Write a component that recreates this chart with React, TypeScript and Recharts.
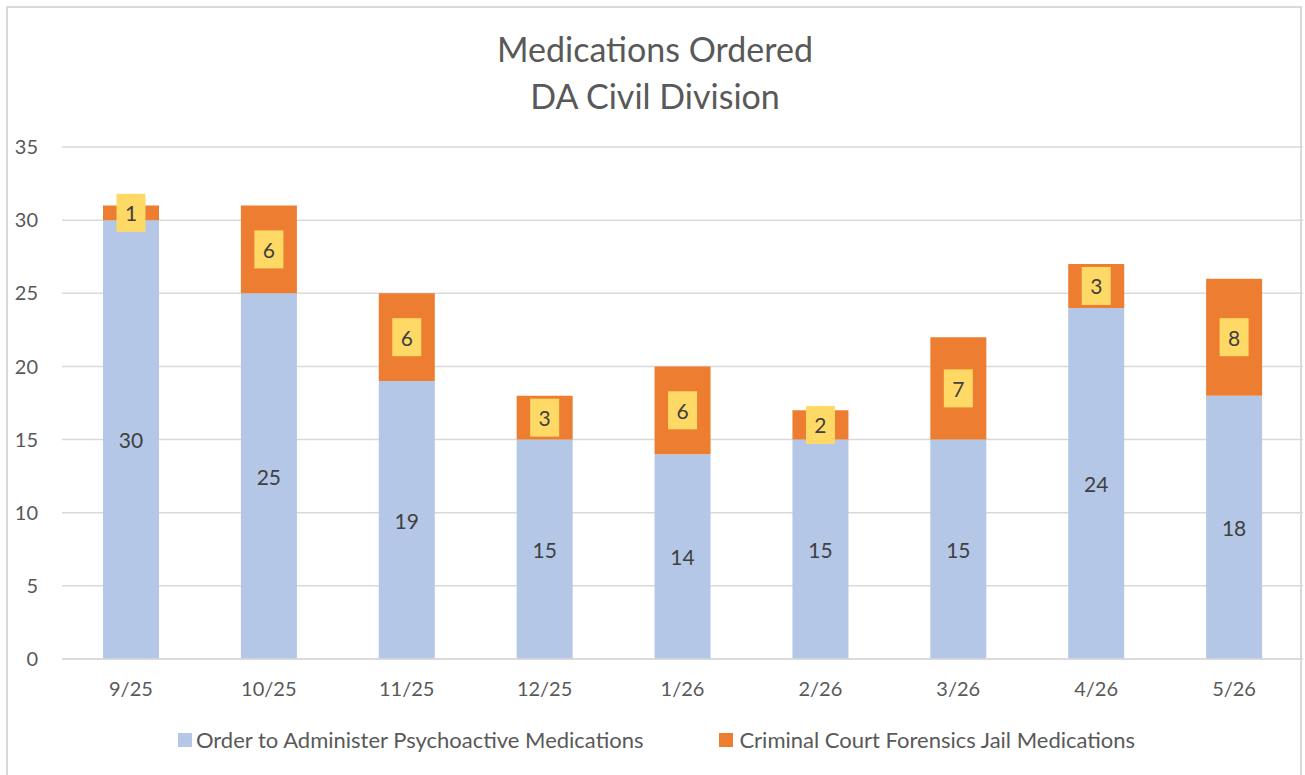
import React from "react";
import { BarChart, Bar, XAxis, YAxis, CartesianGrid, LabelList } from "recharts";

const categories = ["9/25", "10/25", "11/25", "12/25", "1/26", "2/26", "3/26", "4/26", "5/26"];
const orderValues = [30, 25, 19, 15, 14, 15, 15, 24, 18];
const forensicValues = [1, 6, 6, 3, 6, 2, 7, 3, 8];
const yTicks = [0, 5, 10, 15, 20, 25, 30, 35];
const seriesNames = ["Order to Administer Psychoactive Medications", "Criminal Court Forensics Jail Medications"];
const titleLines = ["Medications Ordered", "DA Civil Division"];

const data = categories.map((c, i) => ({ cat: c, order: orderValues[i], forensic: forensicValues[i] }));

const FONT = "Lato, 'Open Sans', sans-serif";
const BLUE = "#B4C7E7";
const ORANGE = "#ED7D31";
const YELLOW = "#FFD966";

const BlueLabel = (props: any) => {
  const { x, y, width, height, value } = props;
  return (
    <text x={x + width / 2} y={y + height / 2} textAnchor="middle" dominantBaseline="central" fontSize={21} fill="#404040" fontFamily={FONT}>
      {value}
    </text>
  );
};

const BoxLabel = (props: any) => {
  const { x, y, width, height, value } = props;
  const cx = x + width / 2;
  const cy = y + height / 2;
  return (
    <g>
      <rect x={cx - 14.5} y={cy - 19} width={29} height={38} fill={YELLOW} />
      <text x={cx} y={cy} textAnchor="middle" dominantBaseline="central" fontSize={21} fill="#404040" fontFamily={FONT}>
        {value}
      </text>
    </g>
  );
};

const LegendContent = () => (
  <div style={{ position: "absolute", left: 4, top: 726, width: 1305, display: "flex", justifyContent: "center", alignItems: "center", fontFamily: FONT, fontSize: 22, color: "#595959", lineHeight: "28px" }}>
    <div style={{ display: "flex", alignItems: "center", marginRight: 76 }}>
      <span style={{ width: 14, height: 14, background: BLUE, display: "inline-block", marginRight: 4 }} />
      <span>{seriesNames[0]}</span>
    </div>
    <div style={{ display: "flex", alignItems: "center" }}>
      <span style={{ width: 14, height: 14, background: ORANGE, display: "inline-block", marginRight: 6 }} />
      <span>{seriesNames[1]}</span>
    </div>
  </div>
);

export default function App() {
  return (
    <div style={{ position: "absolute", left: 0, top: 0, width: 1305, height: 775, background: "#fff", overflow: "hidden" }}>
      <div style={{ position: "absolute", left: 6, top: 6, width: 1296, height: 800, border: "2px solid #D9D9D9", boxSizing: "border-box" }} />
      <div style={{ position: "absolute", left: 0, top: 25, width: 1310, textAlign: "center", fontFamily: FONT, fontSize: 34, color: "#595959", lineHeight: "47px" }}>
        <div>{titleLines[0]}</div>
        <div>{titleLines[1]}</div>
      </div>
      <BarChart width={1305} height={775} data={data} margin={{ top: 147, right: 2, left: 0, bottom: 0 }} barSize={56}>
        <CartesianGrid vertical={false} stroke="#D9D9D9" strokeWidth={1.5} />
        <XAxis
          dataKey="cat"
          axisLine={{ stroke: "#D9D9D9", strokeWidth: 1.5 }}
          tickLine={false}
          tick={{ fill: "#595959", fontSize: 20, fontFamily: FONT }}
          tickMargin={17}
          height={116}
        />
        <YAxis
          domain={[0, 35]}
          ticks={yTicks}
          width={62}
          axisLine={false}
          tickLine={false}
          tickMargin={18}
          tick={{ fill: "#595959", fontSize: 20, fontFamily: FONT }}
        />
        <Bar dataKey="order" stackId="a" fill={BLUE} isAnimationActive={false}>
          <LabelList dataKey="order" content={<BlueLabel />} />
        </Bar>
        <Bar dataKey="forensic" stackId="a" fill={ORANGE} isAnimationActive={false}>
          <LabelList dataKey="forensic" content={<BoxLabel />} />
        </Bar>
      </BarChart>
      <LegendContent />
    </div>
  );
}
